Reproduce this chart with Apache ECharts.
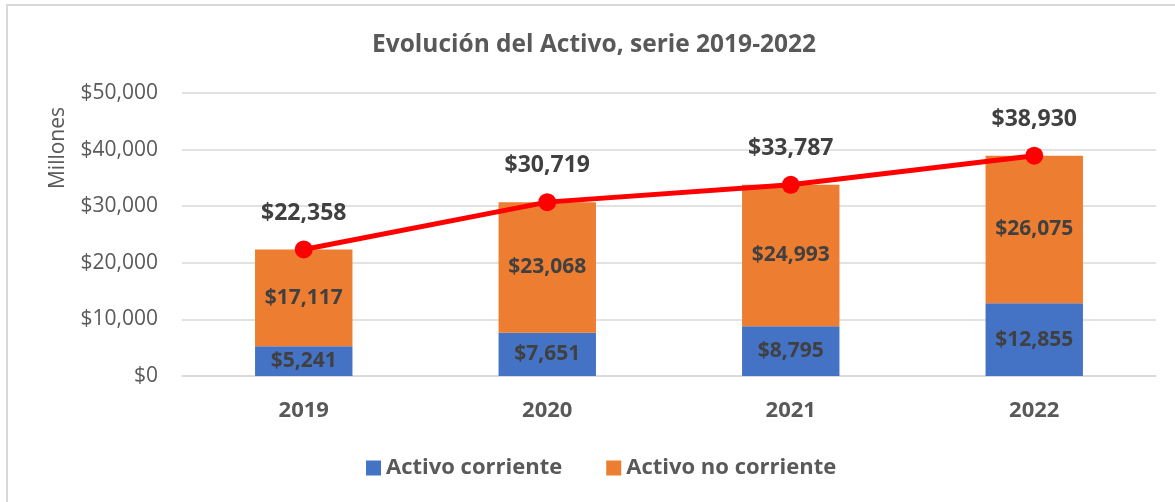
<!DOCTYPE html>
<html>
<head>
<meta charset="utf-8">
<script src="https://cdn.jsdelivr.net/npm/echarts@6/dist/echarts.min.js"></script>
<style>
  html, body { margin: 0; padding: 0; background: #ffffff; }
  #chart { width: 1175px; height: 502px; }
</style>
</head>
<body>
<div id="chart"></div>
<script>
// Years on the category axis
const years = ['2019', '2020', '2021', '2022'];
// Asset breakdown, millions of pesos
const activoCorriente = [5241, 7651, 8795, 12855];
const activoNoCorriente = [17117, 23068, 24993, 26075];
// Total assets per year
const activoTotal = [22358, 30719, 33787, 38930];
// Value axis ticks
const yTicks = [0, 10000, 20000, 30000, 40000, 50000];

const FONT = '"Open Sans", "Noto Sans", sans-serif';
const money = v => '$' + Number(v).toLocaleString('en-US');

const chart = echarts.init(document.getElementById('chart'), null, { renderer: 'canvas' });

chart.setOption({
  animation: false,
  backgroundColor: '#ffffff',
  textStyle: { fontFamily: FONT },
  title: {
    text: 'Evolución del Activo, serie 2019-2022',
    left: 367,
    top: 28,
    textStyle: { fontFamily: FONT, fontWeight: 'bold', fontSize: 24.5, color: '#595959' }
  },
  graphic: [
    { type: 'line', shape: { x1: 7, y1: 4, x2: 7, y2: 502 }, style: { stroke: '#d9d9d9', lineWidth: 2 } },
    { type: 'line', shape: { x1: 7, y1: 5, x2: 1175, y2: 5 }, style: { stroke: '#d9d9d9', lineWidth: 2 } },
    {
      type: 'text',
      x: 58, y: 148,
      rotation: Math.PI / 2,
      style: {
        text: 'Millones',
        fontFamily: FONT, fontSize: 21, fill: '#595959',
        align: 'center', verticalAlign: 'middle'
      }
    }
  ],
  legend: {
    data: ['Activo corriente', 'Activo no corriente'],
    bottom: 18,
    left: 361,
    icon: 'rect',
    itemWidth: 15,
    itemHeight: 15,
    itemGap: 44,
    textStyle: { fontFamily: FONT, fontWeight: 'bold', fontSize: 22, color: '#595959' }
  },
  grid: { left: 182, right: 19, top: 93, bottom: 126, containLabel: false },
  xAxis: {
    type: 'category',
    data: years,
    axisLine: { show: true, lineStyle: { color: '#d9d9d9', width: 1.5 } },
    axisTick: { show: false },
    axisLabel: {
      margin: 24,
      fontFamily: FONT, fontWeight: 'bold', fontSize: 22, color: '#595959'
    }
  },
  yAxis: {
    type: 'value',
    min: yTicks[0],
    max: yTicks[yTicks.length - 1],
    interval: yTicks[1] - yTicks[0],
    axisLine: { show: false },
    axisTick: { show: false },
    splitLine: { lineStyle: { color: '#d9d9d9', width: 1.5 } },
    axisLabel: {
      margin: 24,
      formatter: money,
      fontFamily: FONT, fontSize: 21, color: '#595959'
    }
  },
  series: [
    {
      name: 'Activo corriente',
      type: 'bar',
      stack: 'activo',
      barWidth: '40%',
      data: activoCorriente,
      itemStyle: { color: '#4472C4' },
      label: {
        show: true, position: 'inside', formatter: p => money(p.value),
        fontFamily: FONT, fontWeight: 'bold', fontSize: 21, color: '#404040'
      }
    },
    {
      name: 'Activo no corriente',
      type: 'bar',
      stack: 'activo',
      barWidth: '40%',
      data: activoNoCorriente,
      itemStyle: { color: '#ED7D31' },
      label: {
        show: true, position: 'inside', formatter: p => money(p.value),
        fontFamily: FONT, fontWeight: 'bold', fontSize: 21, color: '#404040'
      }
    },
    {
      name: 'Activo total',
      type: 'line',
      data: activoTotal,
      z: 5,
      symbol: 'circle',
      symbolSize: 18,
      lineStyle: { color: '#FF0000', width: 5 },
      itemStyle: { color: '#FF0000' },
      label: {
        show: true, position: 'top', distance: 16, formatter: p => money(p.value),
        fontFamily: FONT, fontWeight: 'bold', fontSize: 23, color: '#404040'
      }
    }
  ]
});
</script>
</body>
</html>
